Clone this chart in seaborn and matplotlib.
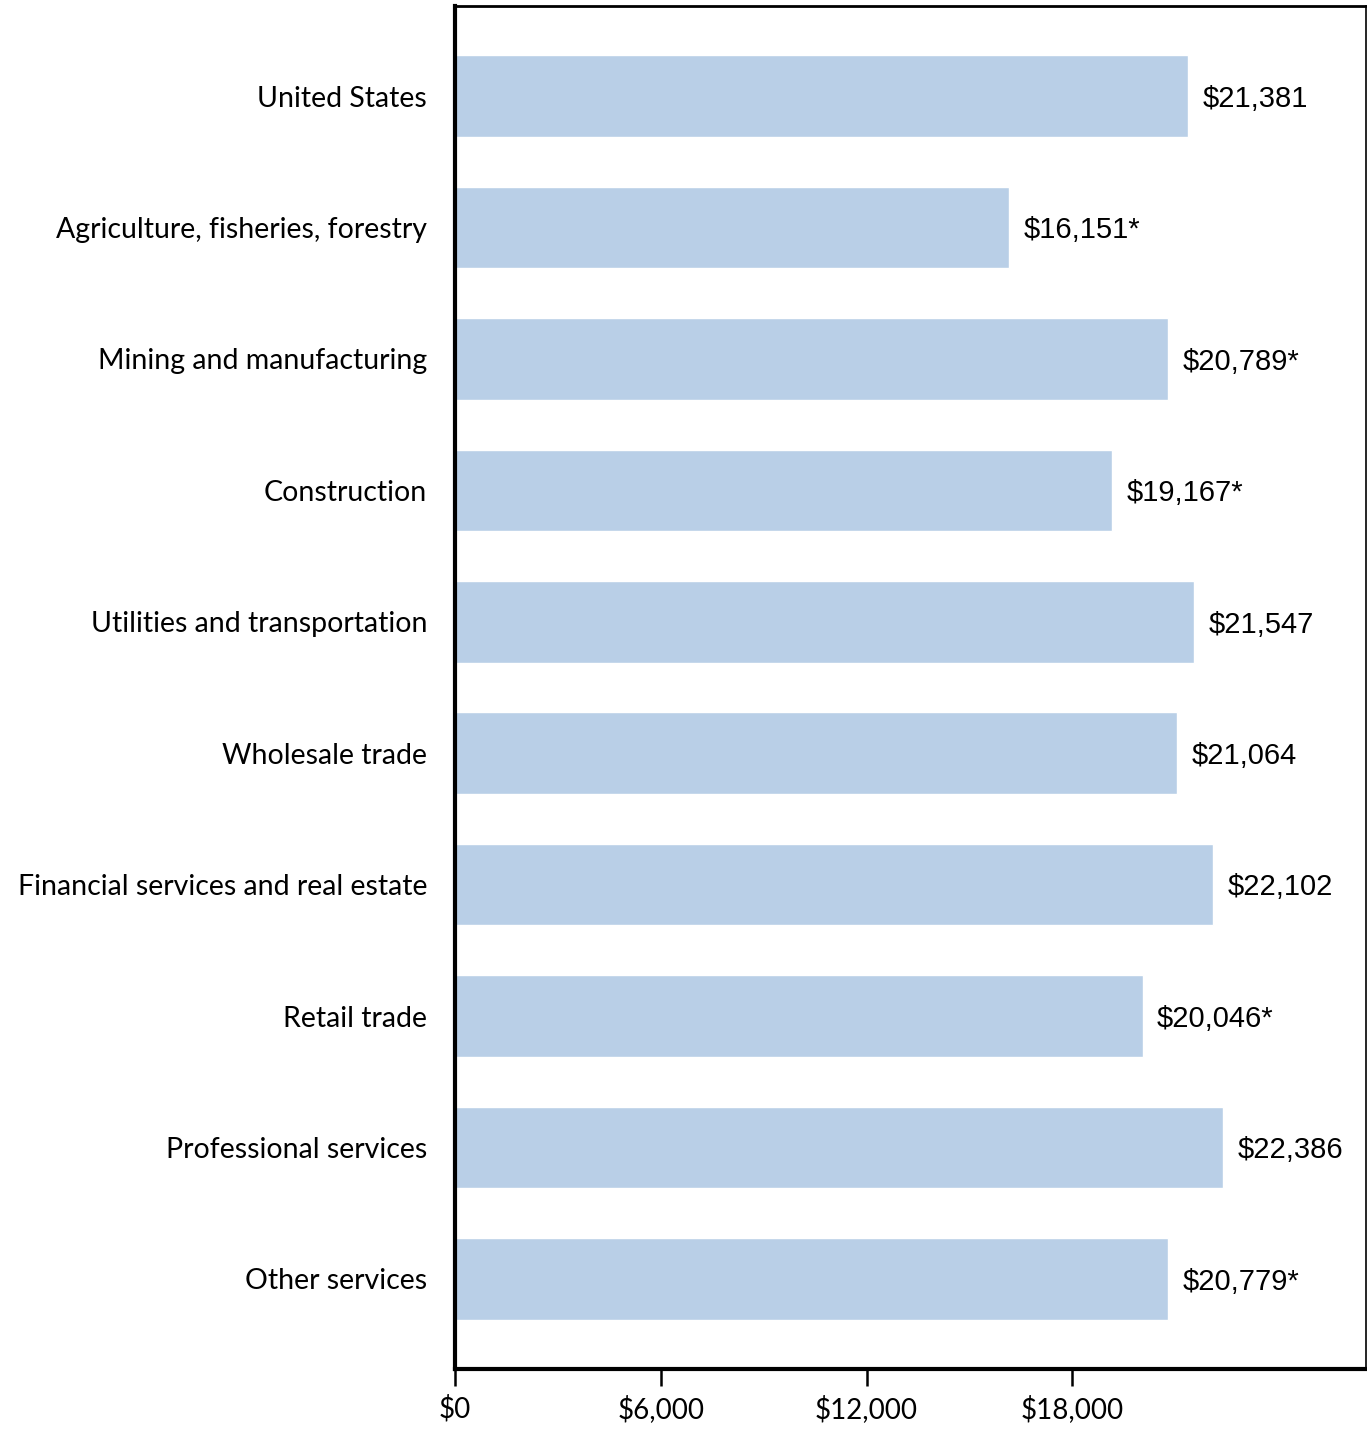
import matplotlib
matplotlib.use("Agg")
import matplotlib.pyplot as plt
import seaborn as sns
import pandas as pd
from matplotlib.ticker import FixedLocator

categories = [
    "United States",
    "Agriculture, fisheries, forestry",
    "Mining and manufacturing",
    "Construction",
    "Utilities and transportation",
    "Wholesale trade",
    "Financial services and real estate",
    "Retail trade",
    "Professional services",
    "Other services",
]
values = [21381, 16151, 20789, 19167, 21547, 21064, 22102, 20046, 22386, 20779]
significant = [False, True, True, True, False, False, False, True, False, True]
x_ticks = [0, 6000, 12000, 18000]
x_tick_labels = ["$0", "$6,000", "$12,000", "$18,000"]

df = pd.DataFrame({"category": categories, "value": values})

sns.set_theme(style="white")
plt.rcParams["font.family"] = ["Lato", "DejaVu Sans"]
plt.rcParams["text.color"] = "black"
plt.rcParams["xtick.color"] = "black"
plt.rcParams["ytick.color"] = "black"

fig = plt.figure(figsize=(13.67, 14.29), dpi=100)
ax = fig.add_axes([455 / 1367, 1 - 1369 / 1429, (1366 - 455) / 1367, (1369 - 6) / 1429])

sns.barplot(data=df, y="category", x="value", orient="h", color="#b9cfe7",
            saturation=1, width=0.62, ax=ax)

ax.set_xlim(0, 26560)
ax.set_ylim(len(categories) - 1 + 0.685, -0.685)
ax.set_xlabel("")
ax.set_ylabel("")
ax.xaxis.set_major_locator(FixedLocator(x_ticks))
ax.set_xticklabels(x_tick_labels, fontsize=20, color="black")
ax.tick_params(axis="x", direction="out", length=12, width=1.8, color="black", pad=7, bottom=True)
ax.tick_params(axis="y", length=0, pad=20, labelsize=20.5, labelcolor="black")

for side, lw in [("left", 3), ("bottom", 3), ("top", 2), ("right", 1.2)]:
    ax.spines[side].set_visible(True)
    ax.spines[side].set_color("black")
    ax.spines[side].set_linewidth(lw)

for i, (v, s) in enumerate(zip(values, significant)):
    label = f"${v:,}" + ("*" if s else "")
    ax.annotate(label, xy=(v, i), xytext=(10.5, -2), textcoords="offset points",
                ha="left", va="center", fontsize=21,
                family=["Liberation Sans", "DejaVu Sans"], color="black")

fig.savefig("out.png", dpi=100)
